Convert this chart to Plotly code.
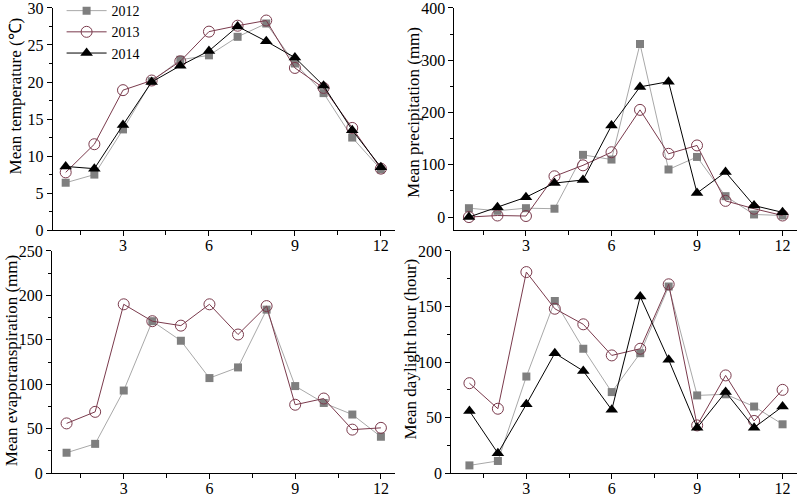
import plotly.graph_objects as go

months = list(range(1, 13))
years = ["2012", "2013", "2014"]

temp_2012 = [6.4, 7.5, 13.6, 20.1, 23.0, 23.6, 26.1, 27.9, 22.5, 18.5, 12.5, 8.2]
temp_2013 = [7.8, 11.6, 18.9, 20.2, 22.8, 26.8, 27.6, 28.3, 21.9, 19.2, 13.8, 8.3]
temp_2014 = [8.6, 8.3, 14.2, 20.0, 22.2, 24.2, 27.5, 25.5, 23.3, 19.5, 13.5, 8.5]

prec_2012 = [17, 12, 17, 16, 119, 110, 331, 91, 115, 40, 5, 3]
prec_2013 = [0, 3, 2, 78, 99, 124, 205, 121, 137, 31, 16, 3]
prec_2014 = [0, 19, 38, 65, 71, 175, 249, 259, 46, 86, 22, 9]

evap_2012 = [23, 33, 93, 171, 149, 107, 119, 184, 98, 79, 66, 41]
evap_2013 = [56, 69, 190, 171, 166, 190, 156, 188, 77, 84, 49, 51]

day_2012 = [7, 11, 87, 155, 112, 73, 108, 168, 70, 71, 60, 44]
day_2013 = [81, 58, 181, 148, 134, 106, 112, 170, 43, 88, 47, 75]
day_2014 = [56, 18, 62, 108, 92, 57, 159, 102, 41, 73, 41, 60]

ytitles = ["Mean temperature (\u2103)", "Mean precipitation (mm)",
           "Mean evapotranspiration (mm)", "Mean daylight hour (hour)"]

FONT = "Liberation Serif, Times New Roman, serif"

styles = {
    "2012": dict(line=dict(color="#a8a8a8", width=1),
                 marker=dict(symbol="square", size=8, color="#7f7f7f",
                             line=dict(color="#7f7f7f", width=0))),
    "2013": dict(line=dict(color="#7a3a4c", width=1),
                 marker=dict(symbol="circle-open", size=11, color="#7a3a4c",
                             line=dict(color="#7a3a4c", width=1))),
    "2014": dict(line=dict(color="#000000", width=1),
                 marker=dict(symbol="triangle-up", size=11, color="#000000")),
}

panels = [
    dict(data={"2012": temp_2012, "2013": temp_2013, "2014": temp_2014},
         xd=[0.066, 0.494], yd=[0.536, 0.984], xr=[0.55, 12.5], yr=[0, 30], dt=5, mdt=2.5,
         tpos=(0.019, 0.806)),
    dict(data={"2012": prec_2012, "2013": prec_2013, "2014": prec_2014},
         xd=[0.568, 0.996], yd=[0.536, 0.984], xr=[0.49, 12.5], yr=[-25, 400], dt=100, mdt=50,
         tpos=(0.516, 0.774)),
    dict(data={"2012": evap_2012, "2013": evap_2013},
         xd=[0.065, 0.494], yd=[0.046, 0.494], xr=[0.49, 12.5], yr=[0, 250], dt=50, mdt=25,
         tpos=(0.014, 0.274)),
    dict(data={"2012": day_2012, "2013": day_2013, "2014": day_2014},
         xd=[0.564, 0.996], yd=[0.046, 0.494], xr=[0.36, 12.5], yr=[0, 200], dt=50, mdt=25,
         tpos=(0.513, 0.296)),
]

fig = go.Figure()
layout = {}
annotations = []
for i, p in enumerate(panels):
    n = "" if i == 0 else str(i + 1)
    for y in years:
        if y not in p["data"]:
            continue
        s = styles[y]
        fig.add_trace(go.Scatter(
            x=months, y=p["data"][y], mode="lines+markers", name=y,
            line=s["line"], marker=s["marker"], showlegend=(i == 0),
            xaxis="x" + n, yaxis="y" + n, cliponaxis=False))
    axis_common = dict(showline=True, linecolor="black", linewidth=1, showgrid=False,
                       zeroline=False, ticks="outside", ticklen=5, tickcolor="black",
                       automargin=False, ticklabeloverflow="allow",
                       tickfont=dict(family=FONT, size=16, color="black"))
    layout["xaxis" + n] = dict(domain=p["xd"], range=p["xr"], anchor="y" + n,
                               tickmode="array", tickvals=[3, 6, 9, 12],
                               ticklabelstandoff=-4,
                               minor=dict(ticks="outside", ticklen=4, tickcolor="black",
                                          tickvals=[1.5, 4.5, 7.5, 10.5]),
                               **axis_common)
    layout["yaxis" + n] = dict(domain=p["yd"], range=p["yr"], anchor="x" + n,
                               tick0=0, dtick=p["dt"],
                               minor=dict(ticks="outside", ticklen=3, tickcolor="black",
                                          dtick=p["mdt"], tick0=0),
                               **axis_common)
    annotations.append(dict(text=ytitles[i], xref="paper", yref="paper",
                            x=p["tpos"][0], y=p["tpos"][1], textangle=-90,
                            showarrow=False, xanchor="center", yanchor="middle",
                            font=dict(family=FONT, size=17, color="black")))

fig.update_layout(
    width=800, height=496, margin=dict(l=0, r=0, t=0, b=0, pad=0, autoexpand=False),
    paper_bgcolor="white", plot_bgcolor="white",
    font=dict(family=FONT, size=16, color="black"),
    legend=dict(x=0.077, y=1.01, xanchor="left", yanchor="top",
                bgcolor="rgba(0,0,0,0)", font=dict(family=FONT, size=14),
                tracegroupgap=0, itemwidth=40),
    annotations=annotations,
    **layout,
)
fig.write_html("out.html", config={"displayModeBar": False},
               post_script="document.body.style.margin='0';document.body.style.padding='0';")
